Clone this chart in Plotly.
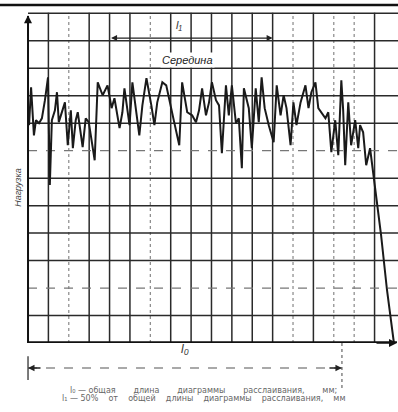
import plotly.graph_objects as go

# ---- data ----
length_mm = [0.5, 1.5, 2.9, 3.9, 5.4, 6.8, 8.3, 9.8, 10.7, 11.7, 13.2, 14.2, 15.1, 16.6, 18.1,
             19.5, 21.0, 22.0, 23.4, 24.4, 26.8, 28.3, 29.8, 32.7, 34.2, 36.6, 39.0, 41.0, 42.4,
             44.9, 46.3, 47.3, 49.8, 51.2, 54.6, 56.1, 58.1, 60.5, 62.0, 63.4, 65.9, 67.8, 69.3,
             71.7, 74.2, 75.6, 78.1, 80.5, 82.4, 83.9, 85.4, 87.3, 88.8, 90.2, 92.2, 93.7, 95.1,
             97.1, 98.5, 100.0, 102.0, 103.4, 104.9, 105.9, 108.3, 109.8, 111.7, 113.2, 114.6,
             116.1, 118.1, 120.5, 122.0, 123.9, 125.4, 126.8, 128.8, 130.2, 131.7, 133.7, 136.1,
             137.6, 139.0, 141.0, 142.4, 143.9, 145.9, 147.3, 148.8, 150.7, 152.2, 153.7, 154.6,
             155.6, 157.1, 158.5, 160.5, 162.0, 162.9, 164.4, 165.9, 167.8, 169.3, 170.7, 173.2,
             176.1, 179.5]
load = [79.3, 93.1, 75.6, 81.1, 80.0, 81.8, 88.4, 96.7, 57.5, 81.1, 84.7, 91.3, 80.4, 84.0, 87.6,
        72.0, 84.7, 70.9, 81.1, 84.0, 71.3, 81.8, 80.4, 66.5, 94.9, 90.2, 93.8, 85.5, 89.1,
        78.2, 84.0, 92.7, 79.3, 94.9, 75.6, 86.5, 96.4, 86.5, 79.3, 87.6, 94.9, 93.8, 89.1,
        80.4, 72.0, 94.9, 84.0, 82.9, 80.4, 84.7, 92.7, 82.9, 87.6, 94.9, 88.4, 86.5, 69.1,
        93.8, 82.9, 93.8, 80.0, 81.8, 63.6, 92.7, 85.5, 70.9, 92.7, 80.4, 96.7,
        85.5, 79.3, 73.1, 93.8, 82.9, 90.2, 85.5, 72.0, 87.6, 79.3, 87.6, 93.8,
        85.5, 91.3, 94.9, 85.5, 84.0, 81.8, 84.0, 69.5, 81.1, 68.4, 95.6, 84.7,
        64.7, 87.6, 72.0, 81.1, 70.9, 79.3, 76.7, 64.7, 70.9, 62.2, 53.8, 39.3,
        19.3, 0.0]

grid_x = [10, 20, 30, 40, 50, 60, 70, 80, 90, 100, 110, 120, 130, 140, 150, 160, 170]
dotted_x = [20, 60, 130, 150, 160]
grid_y = [10, 20, 30, 40, 50, 60, 70, 80, 90, 100, 110, 120]
dotted_y = [20, 70]

l0_end = 154      # total length of the diagram
l1_start = 40     # middle section start
l1_end = 120      # middle section end

caption_1 = ("\u00a0" * 7).join(["l\u2080 \u2014 общая", "длина", "диаграммы", "расслаивания,", "мм;"])
caption_2 = ("\u00a0" * 4).join(["l\u2081 \u2014 50%", "от", "общей", "длины", "диаграммы", "расслаивания,", "мм"])

X_RANGE = [-0.5, 181.5]
Y_RANGE = [0, 120.5]

fig = go.Figure()
fig.add_trace(go.Scatter(x=length_mm, y=load, mode="lines",
                         line=dict(color="#1a1a1a", width=2), hoverinfo="skip"))

shapes = []
for gx in grid_x:
    dotted = gx in dotted_x
    shapes.append(dict(type="line", xref="x", yref="y", x0=gx, x1=gx, y0=0, y1=Y_RANGE[1] - 0.3,
                       line=dict(color="#888" if dotted else "#2a2a2a", width=1.2 if dotted else 1.5,
                                 dash="dot" if dotted else "solid"), layer="below"))
for gy in grid_y:
    dotted = gy in dotted_y
    shapes.append(dict(type="line", xref="x", yref="y", x0=0, x1=X_RANGE[1], y0=gy, y1=gy,
                       line=dict(color="#777" if dotted else "#2a2a2a", width=1.2 if dotted else 1.5,
                                 dash="dash" if dotted else "solid"), layer="below"))


def xp(v):
    return (v - X_RANGE[0]) / (X_RANGE[1] - X_RANGE[0])


# header separator line
shapes.append(dict(type="line", xref="paper", yref="paper", x0=-0.08, x1=1.0, y0=1.021, y1=1.021,
                   line=dict(color="#111", width=2.5)))
# l0 dimension line
shapes.append(dict(type="line", xref="paper", yref="paper", x0=xp(0), x1=xp(l0_end),
                   y0=-0.0755, y1=-0.0755, line=dict(color="#555", width=1.2, dash="dash")))
shapes.append(dict(type="line", xref="paper", yref="paper", x0=xp(0), x1=xp(0),
                   y0=-0.04, y1=-0.112, line=dict(color="#333", width=1.3)))
shapes.append(dict(type="line", xref="paper", yref="paper", x0=xp(l0_end), x1=xp(l0_end),
                   y0=0, y1=-0.145, line=dict(color="#666", width=1.2, dash="dot")))

annotations = [
    # l1 arrow
    dict(x=l1_end, y=111, xref="x", yref="y", ax=l1_start, ay=111, axref="x", ayref="y",
         showarrow=True, arrowside="end+start", arrowhead=2, arrowsize=1, arrowwidth=1.2,
         arrowcolor="#222", text=""),
    dict(x=74, y=115.8, xref="x", yref="y", text="<i>l\u2081</i>", showarrow=False,
         font=dict(family="Liberation Sans", size=11, color="#333")),
    dict(x=78, y=103, xref="x", yref="y", text="<i>Середина</i>", showarrow=False,
         bgcolor="white", font=dict(family="Liberation Sans", size=11, color="#222")),
    # axis arrows
    dict(x=0, y=119.3, xref="x", yref="y", ax=0, ay=22, showarrow=True, arrowhead=2,
         arrowsize=1, arrowwidth=1.6, arrowcolor="#111", text=""),
    dict(x=181, y=0, xref="x", yref="y", ax=-22, ay=0, showarrow=True, arrowhead=2,
         arrowsize=1, arrowwidth=1.6, arrowcolor="#111", text=""),
    # l0 arrow heads and label
    dict(x=0, y=-0.0755, xref="x", yref="paper", ax=14, ay=0, showarrow=True, arrowhead=2,
         arrowsize=1, arrowwidth=1.3, arrowcolor="#222", text=""),
    dict(x=l0_end, y=-0.0755, xref="x", yref="paper", ax=-14, ay=0, showarrow=True, arrowhead=2,
         arrowsize=1, arrowwidth=1.3, arrowcolor="#222", text=""),
    dict(x=77, y=-0.045, xref="x", yref="paper", text="<i>l\u2080</i>", showarrow=False,
         font=dict(family="Liberation Sans", size=12, color="#333")),
    # y label
    dict(x=-0.042, y=0.47, xref="paper", yref="paper", text="<i>Нагрузка</i>", showarrow=False,
         textangle=-90, font=dict(family="Liberation Sans", size=9, color="#444")),
    # captions
    dict(x=0.475, y=-0.163, xref="paper", yref="paper", text=caption_1, showarrow=False,
         font=dict(family="DejaVu Sans", size=8, color="#666")),
    dict(x=0.475, y=-0.187, xref="paper", yref="paper", text=caption_2, showarrow=False,
         font=dict(family="DejaVu Sans", size=8, color="#666")),
]

fig.update_layout(
    width=398, height=412,
    margin=dict(l=27, r=0, t=12, b=69),
    paper_bgcolor="white", plot_bgcolor="white",
    showlegend=False,
    shapes=shapes, annotations=annotations,
    xaxis=dict(range=X_RANGE, showgrid=False, zeroline=False, showticklabels=False, ticks="",
               showline=False),
    yaxis=dict(range=Y_RANGE, showgrid=False, zeroline=False, showticklabels=False, ticks="",
               showline=False),
)
# axis lines
fig.add_shape(type="line", xref="x", yref="y", x0=0, x1=0, y0=0, y1=119, line=dict(color="#111", width=2))
fig.add_shape(type="line", xref="x", yref="y", x0=0, x1=181, y0=0.3, y1=0.3, line=dict(color="#111", width=2))

fig.write_html("out.html", config={"displayModeBar": False},
               post_script="document.body.style.margin='0';document.body.style.overflow='hidden';")
